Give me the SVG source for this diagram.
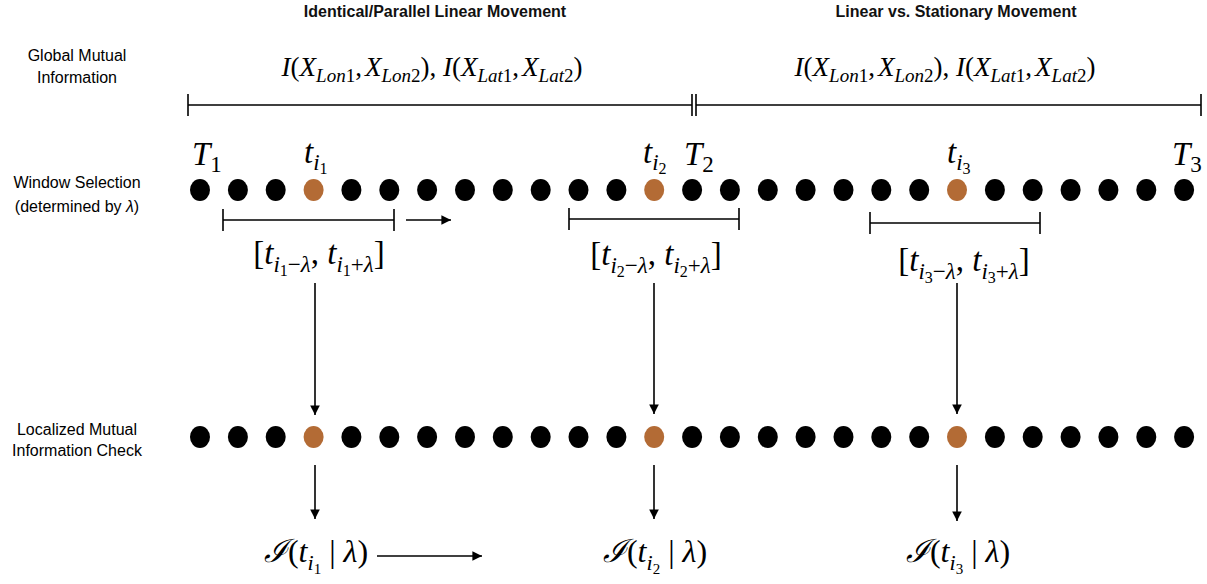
<svg xmlns="http://www.w3.org/2000/svg" width="1207" height="584" viewBox="0 0 1207 584">
<defs>
<style>
.lbl{font-family:"Liberation Sans",Arial,sans-serif;font-size:16px;fill:#000;text-anchor:middle}
.hdr{font-family:"Liberation Sans",Arial,sans-serif;font-size:16px;font-weight:bold;fill:#111;text-anchor:middle}
.m{font-family:"Liberation Serif","Times New Roman",serif;fill:#000}
.i{font-style:italic}
.dot{fill:#000}
.hot{fill:#B36B35}
.ln{stroke:#000;stroke-width:1.6;fill:none}
.arr{stroke:#000;stroke-width:1.6;fill:none;marker-end:url(#ah)}
</style>
<marker id="ah" viewBox="0 0 10 10" refX="10" refY="5" markerWidth="6" markerHeight="6" markerUnits="strokeWidth" orient="auto">
<path d="M0,0 L10,5 L0,10 z" fill="#000"/>
</marker>
</defs>
<rect width="1207" height="584" fill="#fff"/>

<g id="headers">
<text class="hdr" x="435" y="17">Identical/Parallel Linear Movement</text>
<text class="hdr" x="956" y="17">Linear vs. Stationary Movement</text>
</g>

<g id="row-labels">
<text class="lbl" x="77" y="61">Global Mutual</text>
<text class="lbl" x="77" y="83">Information</text>
<text class="lbl" x="77" y="188">Window Selection</text>
<text class="lbl" x="77" y="212">(determined by <tspan font-style="italic">λ</tspan>)</text>
<text class="lbl" x="77" y="435">Localized Mutual</text>
<text class="lbl" x="77" y="456">Information Check</text>
</g>

<g id="global-mi-1">
<text class="m" x="432" y="76" font-size="27" text-anchor="middle"><tspan class="i">I</tspan>(<tspan class="i">X</tspan><tspan class="i" dy="6" font-size="19">Lon</tspan><tspan font-size="19">1</tspan><tspan dy="-6">,</tspan><tspan class="i" dx="3">X</tspan><tspan class="i" dy="6" font-size="19">Lon</tspan><tspan font-size="19">2</tspan><tspan dy="-6">), </tspan><tspan class="i">I</tspan>(<tspan class="i">X</tspan><tspan class="i" dy="6" font-size="19">Lat</tspan><tspan font-size="19">1</tspan><tspan dy="-6">,</tspan><tspan class="i" dx="3">X</tspan><tspan class="i" dy="6" font-size="19">Lat</tspan><tspan font-size="19">2</tspan><tspan dy="-6">)</tspan></text>
</g>
<g id="global-mi-2">
<text class="m" x="945" y="76" font-size="27" text-anchor="middle"><tspan class="i">I</tspan>(<tspan class="i">X</tspan><tspan class="i" dy="6" font-size="19">Lon</tspan><tspan font-size="19">1</tspan><tspan dy="-6">,</tspan><tspan class="i" dx="3">X</tspan><tspan class="i" dy="6" font-size="19">Lon</tspan><tspan font-size="19">2</tspan><tspan dy="-6">), </tspan><tspan class="i">I</tspan>(<tspan class="i">X</tspan><tspan class="i" dy="6" font-size="19">Lat</tspan><tspan font-size="19">1</tspan><tspan dy="-6">,</tspan><tspan class="i" dx="3">X</tspan><tspan class="i" dy="6" font-size="19">Lat</tspan><tspan font-size="19">2</tspan><tspan dy="-6">)</tspan></text>
</g>

<g id="global-span">
<path class="ln" d="M188,105 H692 M696,105 H1201 M188,94 V116 M692,94 V116 M696,94 V116 M1201,94 V116"/>
</g>

<g id="time-labels">
<text class="m" x="192" y="165" font-size="33"><tspan class="i">T</tspan><tspan dy="7" font-size="23">1</tspan></text>
<text class="m" x="684" y="165" font-size="33"><tspan class="i">T</tspan><tspan dy="7" font-size="23">2</tspan></text>
<text class="m" x="1172" y="165" font-size="33"><tspan class="i">T</tspan><tspan dy="7" font-size="23">3</tspan></text>
<text class="m" x="304" y="163" font-size="33"><tspan class="i">t</tspan><tspan class="i" dy="7" font-size="23">i</tspan><tspan dy="4" font-size="16">1</tspan></text>
<text class="m" x="643" y="163" font-size="33"><tspan class="i">t</tspan><tspan class="i" dy="7" font-size="23">i</tspan><tspan dy="4" font-size="16">2</tspan></text>
<text class="m" x="947" y="163" font-size="33"><tspan class="i">t</tspan><tspan class="i" dy="7" font-size="23">i</tspan><tspan dy="4" font-size="16">3</tspan></text>
</g>

<g id="row-window">
<ellipse class="dot" cx="200" cy="190" rx="10" ry="11"/>
<ellipse class="dot" cx="237.9" cy="190" rx="10" ry="11"/>
<ellipse class="dot" cx="275.7" cy="190" rx="10" ry="11"/>
<ellipse class="hot" cx="313.6" cy="190" rx="10" ry="11"/>
<ellipse class="dot" cx="351.4" cy="190" rx="10" ry="11"/>
<ellipse class="dot" cx="389.3" cy="190" rx="10" ry="11"/>
<ellipse class="dot" cx="427.1" cy="190" rx="10" ry="11"/>
<ellipse class="dot" cx="465" cy="190" rx="10" ry="11"/>
<ellipse class="dot" cx="502.8" cy="190" rx="10" ry="11"/>
<ellipse class="dot" cx="540.7" cy="190" rx="10" ry="11"/>
<ellipse class="dot" cx="578.5" cy="190" rx="10" ry="11"/>
<ellipse class="dot" cx="616.4" cy="190" rx="10" ry="11"/>
<ellipse class="hot" cx="654.2" cy="190" rx="10" ry="11"/>
<ellipse class="dot" cx="692.1" cy="190" rx="10" ry="11"/>
<ellipse class="dot" cx="729.9" cy="190" rx="10" ry="11"/>
<ellipse class="dot" cx="767.8" cy="190" rx="10" ry="11"/>
<ellipse class="dot" cx="805.6" cy="190" rx="10" ry="11"/>
<ellipse class="dot" cx="843.5" cy="190" rx="10" ry="11"/>
<ellipse class="dot" cx="881.3" cy="190" rx="10" ry="11"/>
<ellipse class="dot" cx="919.2" cy="190" rx="10" ry="11"/>
<ellipse class="hot" cx="957" cy="190" rx="10" ry="11"/>
<ellipse class="dot" cx="994.9" cy="190" rx="10" ry="11"/>
<ellipse class="dot" cx="1032.7" cy="190" rx="10" ry="11"/>
<ellipse class="dot" cx="1070.6" cy="190" rx="10" ry="11"/>
<ellipse class="dot" cx="1108.4" cy="190" rx="10" ry="11"/>
<ellipse class="dot" cx="1146.3" cy="190" rx="10" ry="11"/>
<ellipse class="dot" cx="1184.1" cy="190" rx="10" ry="11"/>
</g>

<g id="window-brackets">
<path class="ln" d="M223,220 H394 M223,209 V231 M394,209 V231"/>
<path class="ln" d="M569,219 H739 M569,208 V230 M739,208 V230"/>
<path class="ln" d="M870,223 H1040 M870,212 V234 M1040,212 V234"/>
</g>

<g id="window-labels">
<text class="m" x="319" y="264" font-size="33" text-anchor="middle">[<tspan class="i">t</tspan><tspan class="i" dy="8" font-size="23">i</tspan><tspan dy="4" font-size="16">1</tspan><tspan dy="-4" font-size="23">−</tspan><tspan class="i" font-size="23">λ</tspan><tspan dy="-8">, </tspan><tspan class="i">t</tspan><tspan class="i" dy="8" font-size="23">i</tspan><tspan dy="4" font-size="16">1</tspan><tspan dy="-4" font-size="23">+</tspan><tspan class="i" font-size="23">λ</tspan><tspan dy="-8">]</tspan></text>
<text class="m" x="656" y="265" font-size="33" text-anchor="middle">[<tspan class="i">t</tspan><tspan class="i" dy="8" font-size="23">i</tspan><tspan dy="4" font-size="16">2</tspan><tspan dy="-4" font-size="23">−</tspan><tspan class="i" font-size="23">λ</tspan><tspan dy="-8">, </tspan><tspan class="i">t</tspan><tspan class="i" dy="8" font-size="23">i</tspan><tspan dy="4" font-size="16">2</tspan><tspan dy="-4" font-size="23">+</tspan><tspan class="i" font-size="23">λ</tspan><tspan dy="-8">]</tspan></text>
<text class="m" x="964" y="271" font-size="33" text-anchor="middle">[<tspan class="i">t</tspan><tspan class="i" dy="8" font-size="23">i</tspan><tspan dy="4" font-size="16">3</tspan><tspan dy="-4" font-size="23">−</tspan><tspan class="i" font-size="23">λ</tspan><tspan dy="-8">, </tspan><tspan class="i">t</tspan><tspan class="i" dy="8" font-size="23">i</tspan><tspan dy="4" font-size="16">3</tspan><tspan dy="-4" font-size="23">+</tspan><tspan class="i" font-size="23">λ</tspan><tspan dy="-8">]</tspan></text>
</g>

<g id="row-local">
<ellipse class="dot" cx="200" cy="437" rx="10" ry="11"/>
<ellipse class="dot" cx="237.9" cy="437" rx="10" ry="11"/>
<ellipse class="dot" cx="275.7" cy="437" rx="10" ry="11"/>
<ellipse class="hot" cx="313.6" cy="437" rx="10" ry="11"/>
<ellipse class="dot" cx="351.4" cy="437" rx="10" ry="11"/>
<ellipse class="dot" cx="389.3" cy="437" rx="10" ry="11"/>
<ellipse class="dot" cx="427.1" cy="437" rx="10" ry="11"/>
<ellipse class="dot" cx="465" cy="437" rx="10" ry="11"/>
<ellipse class="dot" cx="502.8" cy="437" rx="10" ry="11"/>
<ellipse class="dot" cx="540.7" cy="437" rx="10" ry="11"/>
<ellipse class="dot" cx="578.5" cy="437" rx="10" ry="11"/>
<ellipse class="dot" cx="616.4" cy="437" rx="10" ry="11"/>
<ellipse class="hot" cx="654.2" cy="437" rx="10" ry="11"/>
<ellipse class="dot" cx="692.1" cy="437" rx="10" ry="11"/>
<ellipse class="dot" cx="729.9" cy="437" rx="10" ry="11"/>
<ellipse class="dot" cx="767.8" cy="437" rx="10" ry="11"/>
<ellipse class="dot" cx="805.6" cy="437" rx="10" ry="11"/>
<ellipse class="dot" cx="843.5" cy="437" rx="10" ry="11"/>
<ellipse class="dot" cx="881.3" cy="437" rx="10" ry="11"/>
<ellipse class="dot" cx="919.2" cy="437" rx="10" ry="11"/>
<ellipse class="hot" cx="957" cy="437" rx="10" ry="11"/>
<ellipse class="dot" cx="994.9" cy="437" rx="10" ry="11"/>
<ellipse class="dot" cx="1032.7" cy="437" rx="10" ry="11"/>
<ellipse class="dot" cx="1070.6" cy="437" rx="10" ry="11"/>
<ellipse class="dot" cx="1108.4" cy="437" rx="10" ry="11"/>
<ellipse class="dot" cx="1146.3" cy="437" rx="10" ry="11"/>
<ellipse class="dot" cx="1184.1" cy="437" rx="10" ry="11"/>
</g>

<g id="results">
<text class="m" x="316" y="562" font-size="32" text-anchor="middle"><tspan class="i">ℐ</tspan>(<tspan class="i">t</tspan><tspan class="i" dy="8" font-size="22">i</tspan><tspan dy="4" font-size="15">1</tspan><tspan dy="-12"> | </tspan><tspan class="i">λ</tspan>)</text>
<text class="m" x="655" y="562" font-size="32" text-anchor="middle"><tspan class="i">ℐ</tspan>(<tspan class="i">t</tspan><tspan class="i" dy="8" font-size="22">i</tspan><tspan dy="4" font-size="15">2</tspan><tspan dy="-12"> | </tspan><tspan class="i">λ</tspan>)</text>
<text class="m" x="958" y="562" font-size="32" text-anchor="middle"><tspan class="i">ℐ</tspan>(<tspan class="i">t</tspan><tspan class="i" dy="8" font-size="22">i</tspan><tspan dy="4" font-size="15">3</tspan><tspan dy="-12"> | </tspan><tspan class="i">λ</tspan>)</text>
</g>

<g id="connectors">
<line class="arr" x1="406" y1="220" x2="451" y2="220"/>
<line class="arr" x1="315" y1="283" x2="315" y2="415"/>
<line class="arr" x1="654" y1="283" x2="654" y2="414"/>
<line class="arr" x1="957" y1="283" x2="957" y2="414"/>
<line class="arr" x1="315" y1="465" x2="315" y2="519"/>
<line class="arr" x1="654" y1="465" x2="654" y2="519"/>
<line class="arr" x1="957" y1="465" x2="957" y2="521"/>
<line class="arr" x1="377" y1="556" x2="482" y2="556"/>
</g>
</svg>
